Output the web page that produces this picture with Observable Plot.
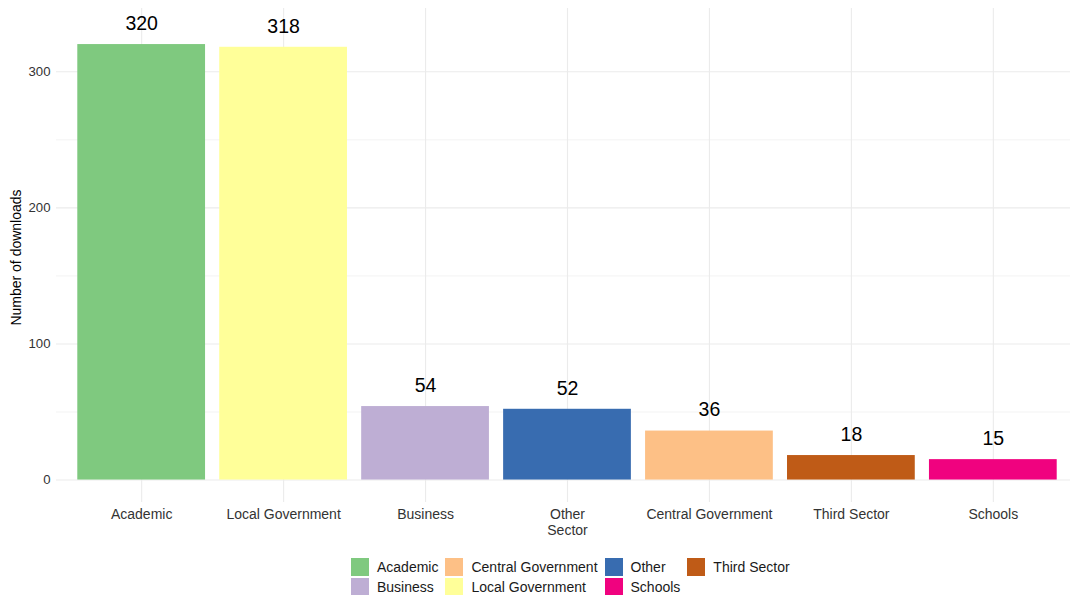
<!DOCTYPE html>
<html>
<head>
<meta charset="utf-8">
<script src="https://cdn.jsdelivr.net/npm/d3@7"></script>
<script src="https://cdn.jsdelivr.net/npm/@observablehq/plot@0.6"></script>
<style>
  html, body { margin: 0; padding: 0; background: #fff; overflow: hidden; }
  body { width: 1070px; height: 595px; font-family: "Liberation Sans", Arial, sans-serif; }
  #legend {
    display: grid; grid-auto-flow: column; grid-template-rows: 20px 20px;
    column-gap: 7px; width: max-content; margin: 9px 0 0 351px;
    font-size: 14px; color: #1a1a1a;
  }
  .item { display: flex; align-items: center; height: 20px; }
  .sw { width: 18px; height: 18px; margin-right: 8px; flex: none; }
</style>
</head>
<body>
<div id="chart"></div>
<div id="legend"></div>
<script>
const categories = ["Academic", "Local Government", "Business", "Other Sector", "Central Government", "Third Sector", "Schools"];
const groups = ["Academic", "Local Government", "Business", "Other", "Central Government", "Third Sector", "Schools"];
const downloads = [320, 318, 54, 52, 36, 18, 15];
const tickLabels = {"Other Sector": "Other\nSector"};
const legendOrder = ["Academic", "Business", "Central Government", "Local Government", "Other", "Schools", "Third Sector"];
const palette = ["#7FC97F", "#BEAED4", "#FDC086", "#FFFF99", "#386CB0", "#F0027F", "#BF5B17"];
const yTicks = [0, 100, 200, 300];
const yMinor = [50, 150, 250];
const yTitle = "Number of downloads";

const data = categories.map((c, i) => ({category: c, group: groups[i], n: downloads[i]}));

const chart = Plot.plot({
  width: 1070,
  height: 548,
  marginLeft: 56,
  marginRight: 0,
  marginTop: 8,
  marginBottom: 46,
  style: {fontFamily: "Liberation Sans, Arial, sans-serif", background: "#fff", overflow: "visible"},
  x: {domain: categories, range: [56, 1078], paddingInner: 0.1, paddingOuter: 0.15, round: false, label: null},
  y: {domain: [-16.5, 346.5], label: null},
  color: {domain: legendOrder, range: palette},
  marks: [
    Plot.ruleY(yMinor, {stroke: "#ebebeb", strokeWidth: 0.6}),
    Plot.ruleY(yTicks, {stroke: "#ebebeb", strokeWidth: 1.1}),
    Plot.ruleX(categories, {x: d => d, stroke: "#ebebeb", strokeWidth: 1.1}),
    Plot.barY(data, {x: "category", y: "n", fill: "group"}),
    Plot.text(data, {x: "category", y: "n", text: d => String(d.n), dy: -21, fontSize: 19.5, fill: "#000"}),
    Plot.axisX({tickSize: 0, tickPadding: 5, fontSize: 14, tickFormat: d => tickLabels[d] ?? d, fill: "#333", label: null, lineHeight: 1.15}),
    Plot.axisY({ticks: yTicks, tickSize: 0, tickPadding: 6, fontSize: 13.2, fill: "#333", label: null}),
    Plot.text([yTitle], {frameAnchor: "left", textAnchor: "middle", dx: -40, dy: 2, rotate: -90, fontSize: 14, fill: "#000", text: d => d})
  ]
});
document.getElementById("chart").appendChild(chart);

const legend = document.getElementById("legend");
legendOrder.forEach((g, i) => {
  const item = document.createElement("div");
  item.className = "item";
  const sw = document.createElement("span");
  sw.className = "sw";
  sw.style.background = palette[i];
  const t = document.createElement("span");
  t.textContent = g;
  item.appendChild(sw); item.appendChild(t);
  legend.appendChild(item);
});
</script>
</body>
</html>
